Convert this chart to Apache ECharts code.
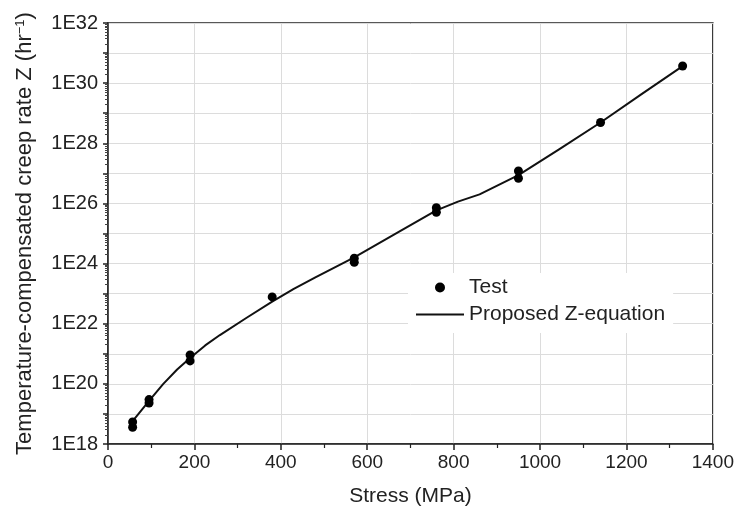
<!DOCTYPE html>
<html>
<head>
<meta charset="utf-8">
<script src="https://cdn.jsdelivr.net/npm/echarts@6/dist/echarts.min.js"></script>
<style>
html,body{margin:0;padding:0;background:#fff;}
#chart{width:737px;height:513px;}
</style>
</head>
<body>
<div id="chart"></div>
<script>
// Test data: stress (MPa) and temperature-compensated creep rate Z (hr^-1)
var testStress = [57, 57, 95, 95, 190, 190, 380, 570, 570, 760, 760, 950, 950, 1140, 1330];
var testZ = [5.4e18, 3.6e18, 3.0e19, 2.3e19, 9.1e20, 5.8e20, 7.8e22, 1.5e24, 1.1e24, 7.2e25, 5.1e25, 1.2e27, 6.9e26, 4.9e28, 3.7e30];

// Proposed Z-equation curve
var curveStress = [57, 95, 128, 160, 190, 225, 259, 320, 380, 430, 480, 570, 680, 760, 810, 860, 950, 1044, 1140, 1235, 1330];
var curveZ = [5.8e18, 2.7e19, 1.0e20, 3.0e20, 7.2e20, 1.9e21, 4.2e21, 1.55e22, 5.4e22, 1.45e23, 3.5e23, 1.6e24, 1.3e25, 5.9e25, 1.15e26, 2.0e26, 8.7e26, 6.3e27, 4.9e28, 4.3e29, 3.7e30];

var xTicks = [0, 200, 400, 600, 800, 1000, 1200, 1400];
var yMin = 1e18, yMax = 1e32;

var testData = testStress.map(function (s, i) { return [s, testZ[i]]; });
var curveData = curveStress.map(function (s, i) { return [s, curveZ[i]]; });

var FONT = '"Liberation Sans", Arial, sans-serif';
var chart = echarts.init(document.getElementById('chart'));
chart.setOption({
  animation: false,
  backgroundColor: '#fff',
  textStyle: { fontFamily: FONT },
  grid: {
    left: 108, right: 23, top: 23, bottom: 69,
    show: true, borderColor: '#222', borderWidth: 1.5, backgroundColor: 'transparent'
  },
  legend: {
    left: 408, top: 273,
    orient: 'vertical',
    backgroundColor: '#fff',
    padding: [4, 8, 8, 7],
    itemGap: 6,
    itemWidth: 48, itemHeight: 10,
    textStyle: { fontFamily: FONT, fontSize: 21, color: '#222', padding: [0, 0, 0, 0] },
    data: [
      { name: 'Test', icon: 'circle' },
      { name: 'Proposed Z-equation', itemStyle: { opacity: 0 } }
    ]
  },
  xAxis: {
    type: 'value',
    min: xTicks[0], max: xTicks[xTicks.length - 1], interval: 200,
    name: 'Stress (MPa)', nameLocation: 'middle', nameGap: 42,
    nameTextStyle: { fontFamily: FONT, fontSize: 21, color: '#222' },
    axisLine: { show: true, onZero: false, lineStyle: { color: '#222', width: 1.5 } },
    axisTick: { show: true, length: 6, lineStyle: { color: '#222', width: 1.5 } },
    minorTick: { show: true, splitNumber: 2, length: 4, lineStyle: { color: '#222', width: 1.2 } },
    axisLabel: {
      fontFamily: FONT, fontSize: 19, color: '#222', margin: 9,
      formatter: function (v) { return String(v); }
    },
    splitLine: { show: true, lineStyle: { color: '#dcdcdc', width: 1 } }
  },
  yAxis: {
    type: 'log', logBase: 10,
    min: yMin, max: yMax, interval: 1,
    name: 'Temperature-compensated creep rate Z (hr{sup|\u22121})',
    nameLocation: 'middle', nameGap: 72,
    nameTextStyle: {
      fontFamily: FONT, fontSize: 22, color: '#222',
      rich: { sup: { fontFamily: FONT, fontSize: 13, color: '#222', verticalAlign: 'top', lineHeight: 13 } }
    },
    axisLine: { show: true, lineStyle: { color: '#222', width: 1.5 } },
    axisTick: { show: true, length: 5, lineStyle: { color: '#222', width: 1.5 } },
    minorTick: { show: true, splitNumber: 9, length: 3, lineStyle: { color: '#444', width: 1 } },
    axisLabel: {
      fontFamily: FONT, fontSize: 20, color: '#222', margin: 10,
      formatter: function (v) {
        var e = Math.round(Math.log10(v));
        return (e % 2 === 0) ? '1E' + e : '';
      }
    },
    splitLine: { show: true, lineStyle: { color: '#dcdcdc', width: 1 } }
  },
  series: [
    {
      name: 'Proposed Z-equation', type: 'line',
      data: curveData, symbol: 'none', showSymbol: false,
      smooth: false,
      lineStyle: { color: '#111', width: 2, join: 'round' },
      itemStyle: { color: '#111' },
      z: 2
    },
    {
      name: 'Test', type: 'scatter',
      data: testData, symbol: 'circle', symbolSize: 9,
      itemStyle: { color: '#000', opacity: 1 },
      z: 3
    }
  ]
});
</script>
</body>
</html>
